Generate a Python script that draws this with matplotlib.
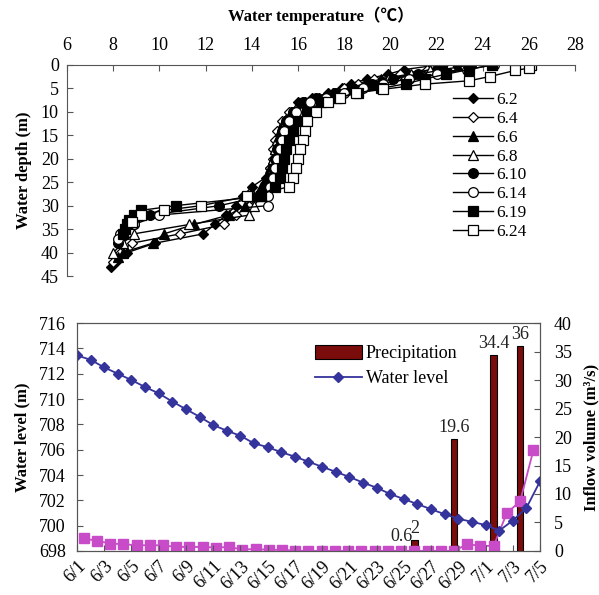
import matplotlib
matplotlib.use("Agg")
import matplotlib.pyplot as plt
import matplotlib.patches as mpatches
from matplotlib.lines import Line2D
import numpy as np

plt.rcParams['font.family'] = ['Liberation Serif', 'Noto Sans CJK SC', 'DejaVu Sans']

# --- top panel: temperature profiles (depth m, temperature C) ---
profile_labels = ['6.2', '6.4', '6.6', '6.8', '6.10', '6.14', '6.19', '6.24']
profile_markers = ['D', 'D', '^', '^', 'o', 'o', 's', 's']
profile_filled = [True, False, True, False, True, False, True, False]

depth_62 = [0, 1, 2, 3, 4, 5, 6, 7, 8, 10, 12, 14, 16, 18, 20, 22, 24, 26, 28, 30, 32, 34, 36, 38, 40, 42, 43]
temp_62 = [22.1, 20.6, 19.9, 19.0, 18.3, 17.9, 17.3, 16.6, 16.0, 15.7, 15.5, 15.3, 15.2, 15.1, 15.0, 14.8, 14.6,
           14.0, 13.6, 13.3, 12.9, 12.4, 11.9, 9.8, 8.6, 8.1, 7.9]
depth_64 = [0, 1, 2, 3, 4, 5, 6, 7, 8, 10, 12, 14, 16, 18, 20, 22, 24, 26, 28, 30, 32, 34, 36, 38, 40, 42]
temp_64 = [22.5, 21.6, 20.4, 19.3, 18.6, 18.0, 17.5, 16.9, 16.3, 15.6, 15.3, 15.1, 15.0, 14.9, 14.9, 14.8, 14.7,
           14.6, 14.3, 13.9, 13.3, 12.8, 10.9, 8.8, 8.3, 8.0]
depth_66 = [0, 1, 2, 3, 4, 5, 6, 7, 8, 10, 12, 14, 16, 18, 20, 22, 24, 26, 28, 30, 32, 34, 36, 38, 40, 41]
temp_66 = [22.9, 21.9, 20.8, 19.6, 18.9, 18.2, 17.5, 16.8, 16.2, 15.7, 15.4, 15.2, 15.1, 15.0, 14.9, 14.8, 14.6,
           14.4, 14.1, 13.7, 13.0, 11.5, 10.2, 9.7, 8.4, 8.2]
depth_68 = [0, 1, 2, 3, 4, 5, 6, 7, 8, 10, 12, 14, 16, 18, 20, 22, 24, 26, 28, 30, 32, 34, 36, 38, 40]
temp_68 = [22.6, 21.7, 20.9, 19.9, 19.1, 18.4, 17.6, 16.9, 16.3, 15.8, 15.5, 15.3, 15.1, 15.0, 14.9, 14.9, 14.8,
           14.6, 14.4, 14.1, 13.9, 11.3, 8.9, 8.4, 8.0]
depth_610 = [0, 1, 2, 3, 4, 5, 6, 7, 8, 10, 12, 14, 16, 18, 20, 22, 24, 26, 28, 30, 32, 34, 36, 38]
temp_610 = [23.5, 22.3, 21.2, 20.1, 19.2, 18.4, 17.6, 16.8, 16.2, 15.8, 15.5, 15.3, 15.2, 15.1, 15.0, 14.9, 14.8,
            14.6, 14.4, 12.6, 9.6, 8.9, 8.4, 8.2]
depth_614 = [0, 1, 2, 3, 4, 5, 6, 7, 8, 10, 12, 14, 16, 18, 20, 22, 24, 26, 28, 30, 32, 34, 36, 37]
temp_614 = [24.5, 23.3, 22.0, 20.8, 19.7, 18.8, 18.0, 17.2, 16.5, 15.9, 15.6, 15.4, 15.3, 15.2, 15.1, 15.0, 14.9,
            14.8, 14.7, 14.7, 10.0, 8.9, 8.3, 8.2]
depth_619 = [0, 1, 2, 3, 4, 5, 6, 7, 8, 10, 12, 14, 16, 18, 20, 22, 24, 26, 28, 30, 31, 32, 33, 34, 35, 36]
temp_619 = [24.4, 23.4, 22.4, 21.5, 20.7, 19.6, 18.6, 17.7, 17.0, 16.4, 16.0, 15.8, 15.6, 15.5, 15.4, 15.3, 15.2,
            15.0, 14.4, 10.7, 9.2, 8.9, 8.7, 8.6, 8.5, 8.4]
depth_624 = [0, 0.7, 1.2, 2.5, 3.4, 4.1, 5.2, 6, 7, 8, 10, 12, 14, 16, 18, 20, 22, 24, 26, 28, 30, 31, 32, 33.5]
temp_624 = [26.1, 26.0, 25.4, 24.3, 23.4, 21.5, 19.7, 18.5, 17.8, 17.3, 16.8, 16.4, 16.3, 16.2, 16.1, 16.0, 15.9,
            15.8, 15.6, 13.8, 11.8, 10.2, 9.2, 8.8]

profile_depths = [depth_62, depth_64, depth_66, depth_68, depth_610, depth_614, depth_619, depth_624]
profile_temps = [temp_62, temp_64, temp_66, temp_68, temp_610, temp_614, temp_619, temp_624]

# --- bottom panel: daily series 6/1 .. 7/5 ---
dates = ['6/1', '6/2', '6/3', '6/4', '6/5', '6/6', '6/7', '6/8', '6/9', '6/10', '6/11', '6/12', '6/13', '6/14',
         '6/15', '6/16', '6/17', '6/18', '6/19', '6/20', '6/21', '6/22', '6/23', '6/24', '6/25', '6/26', '6/27',
         '6/28', '6/29', '6/30', '7/1', '7/2', '7/3', '7/4', '7/5']
water_level = [713.45, 713.1, 712.5, 712.0, 711.5, 710.95, 710.45, 709.8, 709.2, 708.6, 707.95, 707.5, 707.1,
               706.5, 706.2, 705.8, 705.45, 705.05, 704.65, 704.25, 703.85, 703.4, 703.0, 702.5, 702.1, 701.7,
               701.3, 700.9, 700.55, 700.3, 700.05, 699.6, 700.4, 701.4, 703.5]
inflow = [2.2, 1.8, 1.3, 1.2, 1.0, 1.0, 1.0, 0.7, 0.7, 0.7, 0.6, 0.7, 0.25, 0.35, 0.2, 0.2, 0.05, 0.0, 0.0, 0.0,
          0.0, 0.0, 0.0, 0.0, 0.0, 0.0, 0.0, 0.0, 0.0, 1.2, 0.9, 0.9, 6.7, 8.7, 17.7]
precip_dates = ['6/25', '6/26', '6/29', '7/2', '7/4']
precip = [0.6, 2, 19.6, 34.4, 36]

fig = plt.figure(figsize=(5.99, 5.95), dpi=100)

# ================= top panel =================
ax_t = fig.add_axes([0.112, 0.536, 0.848, 0.355])
for i in range(len(profile_labels)):
    fc = 'black' if profile_filled[i] else 'white'
    ms = 5.5 if profile_markers[i] == 'D' else 7
    ax_t.plot(profile_temps[i], profile_depths[i], color='black', lw=1.0,
              marker=profile_markers[i], markersize=ms, markerfacecolor=fc,
              markeredgecolor='black', markeredgewidth=0.9, label=profile_labels[i])

ax_t.set_xlim(6, 28)
ax_t.set_ylim(45, 0)
ax_t.set_xticks(np.arange(6, 29, 2))
ax_t.set_yticks(np.arange(0, 46, 5))
ax_t.xaxis.tick_top()
ax_t.xaxis.set_label_position('top')
ax_t.spines['right'].set_visible(False)
ax_t.spines['bottom'].set_visible(False)
ax_t.spines['top'].set_color('#555555')
ax_t.spines['left'].set_color('#555555')
ax_t.tick_params(direction='in', labelsize=13, length=4, color='#555555')
ax_t.tick_params(axis='x', pad=8)
ax_t.tick_params(axis='y', pad=6)
ax_t.set_xlabel('Water temperature（℃）', fontsize=12, fontweight='bold', labelpad=11)
ax_t.set_ylabel('Water depth (m)', fontsize=12, fontweight='bold', labelpad=6)
ax_t.legend(loc='upper left', bbox_to_anchor=(0.76, 0.87), frameon=False, fontsize=12.5,
            handlelength=2.3, handletextpad=0.2, labelspacing=0.15, borderpad=0, borderaxespad=0)

# ================= bottom panel =================
rect = [0.1285, 0.074, 0.773, 0.383]
ax_r = fig.add_axes(rect)
ax_l = fig.add_axes(rect)
ax_l.set_zorder(ax_r.get_zorder() + 1)
ax_l.patch.set_visible(False)

x = np.arange(len(dates))
px = [dates.index(d) for d in precip_dates]

# right axis: precipitation bars + inflow (categories centred between ticks)
ax_r.bar(px, precip, width=0.5, color='#7a0c0c', edgecolor='black', linewidth=0.8, zorder=2)
ax_r.plot(x, inflow, color='#c84cc8', lw=1.3, marker='s', markersize=7,
          markerfacecolor='#c84cc8', markeredgecolor='#c84cc8', zorder=3)
for xi, v in zip(px, precip):
    ax_r.text(xi, v + 0.5, f'{v:g}', ha='center', va='bottom', fontsize=13, color='#222222')
ax_r.set_xlim(-0.5, len(dates) - 0.5)
ax_r.set_ylim(0, 40)
ax_r.set_yticks(np.arange(0, 41, 5))
ax_r.yaxis.tick_right()
ax_r.yaxis.set_label_position('right')
ax_r.xaxis.set_visible(False)
ax_r.tick_params(direction='in', labelsize=13, length=4, color='#555555', pad=10)
ax_r.set_ylabel('Inflow volume (m³/s)', fontsize=12, fontweight='bold', labelpad=8)
for s in ax_r.spines.values():
    s.set_color('#555555')

# left axis: water level
ax_l.plot(x, water_level, color='#35339c', lw=1.3, marker='D', markersize=5.5,
          markerfacecolor='#35339c', markeredgecolor='#35339c')
ax_l.set_xlim(0, len(dates) - 1)
ax_l.set_ylim(698, 716)
ax_l.set_yticks(np.arange(698, 717, 2))
ax_l.set_xticks(x[::2])
ax_l.set_xticklabels(dates[::2], rotation=45, ha='right', rotation_mode='anchor')
ax_l.tick_params(direction='in', labelsize=13, length=4, color='#555555')
ax_l.tick_params(axis='x', pad=5)
ax_l.tick_params(axis='y', pad=8)
ax_l.set_ylabel('Water level (m)', fontsize=12, fontweight='bold', labelpad=6)
for s in ax_l.spines.values():
    s.set_color('#555555')

handles = [mpatches.Patch(facecolor='#7a0c0c', edgecolor='black', linewidth=0.8),
           Line2D([0], [0], color='#35339c', lw=1.3, marker='D', markersize=5.5)]
ax_l.legend(handles, ['Precipitation', 'Water level'], loc='upper left', bbox_to_anchor=(0.514, 0.905),
            frameon=False, fontsize=13, handlelength=2.6, handleheight=0.8, handletextpad=0.2,
            labelspacing=0.45, borderpad=0, borderaxespad=0)

fig.savefig('out.png', dpi=100)
